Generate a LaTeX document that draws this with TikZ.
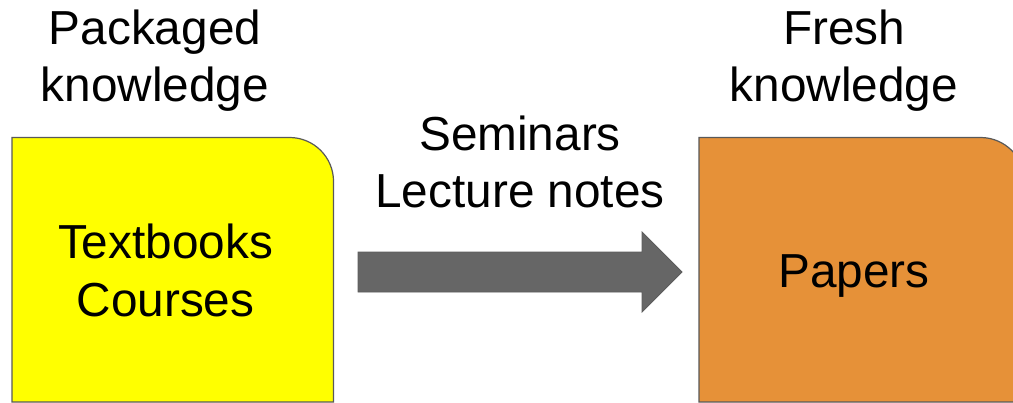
\documentclass[tikz,border=0pt]{standalone}
\usepackage{fontspec}
\setmainfont{Liberation Sans}
\definecolor{boxyellow}{HTML}{FFFF00}
\definecolor{boxorange}{HTML}{E69138}
\definecolor{edgegray}{HTML}{595959}
\definecolor{arrowgray}{HTML}{666666}
\begin{document}
\begin{tikzpicture}[x=0.75pt,y=-0.75pt,
  lbl/.style={inner sep=0pt, align=center, font=\fontsize{35.8}{42.9}\selectfont},
  boxframe/.style={draw=none, inner sep=0pt, anchor=north west, minimum height=198pt},
  boxline/.style={draw=edgegray, line width=0.9pt},
  blockarrow/.style={fill=arrowgray, draw=arrowgray!90!black, line width=0.6pt, line join=miter}]
\useasboundingbox (0,0) rectangle (1013,403);
\clip (0,0) rectangle (1013,403);
% boxes
\node[boxframe, minimum width=240.75pt] (yellow) at (12,137.5) {};
\node[boxframe, minimum width=243.75pt] (orange) at (699,137.5) {};
\filldraw[boxline, fill=boxyellow] (yellow.south west) -- (yellow.north west)
  [rounded corners=33pt] -- (yellow.north east) [sharp corners] -- (yellow.south east) -- cycle;
\filldraw[boxline, fill=boxorange] (orange.south west) -- (orange.north west)
  [rounded corners=33pt] -- (orange.north east) [sharp corners] -- (orange.south east) -- cycle;
% texts
\node[lbl, anchor=north] (packaged) at (155,9.5) {Packaged\\knowledge};
\node[lbl, anchor=north] (fresh) at (844,9.5) {Fresh\\knowledge};
\node[lbl, anchor=north] (seminars) at (520,115.5) {Seminars\\Lecture notes};
\node[lbl, anchor=north] (textbooks) at (165.5,224) {Textbooks\\Courses};
\node[lbl, anchor=base] (papers) at (854,287) {Papers};
% block arrow
\coordinate (a1) at (358,252);
\coordinate (a2) at (642,252);
\coordinate (a3) at (642,232);
\coordinate (tip) at (682,272);
\coordinate (a5) at (642,312);
\coordinate (a6) at (642,292);
\coordinate (a7) at (358,292);
\filldraw[blockarrow] (a1) -- (a2) -- (a3) -- (tip) -- (a5) -- (a6) -- (a7) -- cycle;
\end{tikzpicture}
\end{document}
